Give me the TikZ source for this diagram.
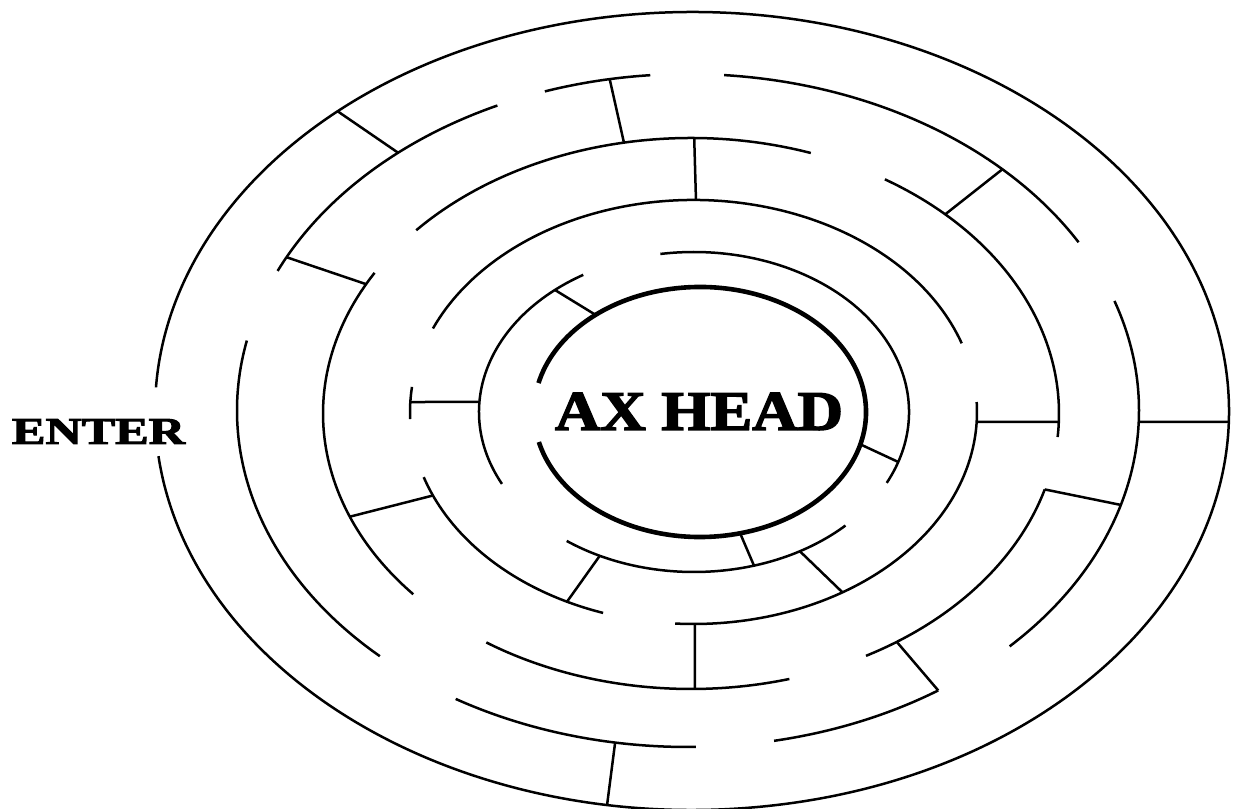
\documentclass[tikz,border=0pt]{standalone}
\usepackage{fontspec}
\usepackage{graphicx}
\setmainfont{Liberation Serif}
\newfontfamily\heavyserif{Liberation Serif}[BoldFeatures={FakeBold=2.5}]
\usetikzlibrary{calc}
\newcommand\mzarc[5]{\draw ($(#1)+(#4:#2 and #3)$) arc[start angle=#4,end angle=#5,x radius=#2,y radius=#3];}
\begin{document}
\begin{tikzpicture}[x=1pt,y=1pt,
  wall/.style={line width=2.5pt},
  thickwall/.style={line width=4.6pt},
  mazelabel/.style={inner sep=0pt,font=\heavyserif\bfseries}]
\useasboundingbox (0,0) rectangle (1235,809);
\clip (0,0) rectangle (1235,809);
\fill[white] (0,0) rectangle (1235,809);
% ring centres
\coordinate (cA) at (692,398);
\coordinate (cB) at (688,398.5);
\coordinate (cC) at (691,395.5);
\coordinate (cD) at (693.5,397);
\coordinate (cE) at (694,397);
\coordinate (cF) at (700,397);
\begin{scope}[wall]
% ring A (outer)
\mzarc{cA}{537}{399}{-173.5}{176.6}
% ring B
\mzarc{cB}{451}{336.5}{115}{155.5}
\mzarc{cB}{451}{336.5}{168}{226.9}
\mzarc{cB}{451}{336.5}{239}{271}
\mzarc{cB}{451}{336.5}{94.8}{108.5}
\mzarc{cB}{451}{336.5}{30}{85.4}
\mzarc{cB}{451}{336.5}{-44.5}{19}
\mzarc{cB}{451}{336.5}{-79}{-56.3}
% ring C
\mzarc{cC}{368}{275.5}{71}{138.3}
\mzarc{cC}{368}{275.5}{-4.9}{58.2}
\mzarc{cC}{368}{275.5}{149.3}{221}
\mzarc{cC}{368}{275.5}{236.2}{285.5}
\mzarc{cC}{368}{275.5}{-61.6}{-16}
% ring D
\mzarc{cD}{283.5}{212}{18.9}{156.8}
\mzarc{cD}{283.5}{212}{173.2}{181.9}
\mzarc{cD}{283.5}{212}{197.9}{251.4}
\mzarc{cD}{283.5}{212}{-93.7}{2.7}
% ring E
\mzarc{cE}{215}{160}{-26.3}{99}
\mzarc{cE}{215}{160}{121}{206.7}
\mzarc{cE}{215}{160}{233.7}{314.8}
% radial walls
\draw ($(cA)+(131.3:537 and 399)$) -- ($(cB)+(130:451 and 336.5)$);
\draw ($(cB)+(152.9:451 and 336.5)$) -- ($(cC)+(152:368 and 275.5)$);
\draw ($(cB)+(100:451 and 336.5)$) -- ($(cC)+(100.5:368 and 275.5)$);
\draw ($(cC)+(89.5:368 and 275.5)$) -- ($(cD)+(89.5:283.5 and 212)$);
\draw ($(cB)+(45.8:451 and 336.5)$) -- ($(cC)+(46.3:368 and 275.5)$);
\draw ($(cC)+(-16:368 and 275.5)$) -- ($(cB)+(-16.3:451 and 336.5)$);
\draw ($(cB)+(-1.96:451 and 336.5)$) -- ($(cA)+(-1.58:537 and 399)$);
\draw ($(cC)+(-56:368 and 275.5)$) -- ($(cB)+(-56.3:451 and 336.5)$);
\draw ($(cB)+(260.7:451 and 336.5)$) -- ($(cA)+(260.9:537 and 399)$);
\draw ($(cD)+(-89.7:283.5 and 212)$) -- ($(cC)+(-89.4:368 and 275.5)$);
\draw ($(cD)+(203.2:283.5 and 212)$) -- ($(cC)+(202:368 and 275.5)$);
\draw ($(cD)+(177.3:283.5 and 212)$) -- ($(cE)+(176.4:215 and 160)$);
\draw ($(cD)+(-2.7:283.5 and 212)$) -- ($(cC)+(-1.77:368 and 275.5)$);
\draw ($(cE)+(130.3:215 and 160)$) -- ($(cF)+(129:166 and 125)$);
\draw ($(cF)+(-15:166 and 125)$) -- ($(cE)+(-18.2:215 and 160)$);
\draw ($(cF)+(-76:166 and 125)$) -- ($(cE)+(-73.8:215 and 160)$);
\draw ($(cE)+(244:215 and 160)$) -- ($(cD)+(243.5:283.5 and 212)$);
\draw ($(cE)+(-60.5:215 and 160)$) -- ($(cD)+(-58.3:283.5 and 212)$);
\end{scope}
% ring F (thick, innermost)
\begin{scope}[thickwall]
\mzarc{cF}{166}{125}{193.9}{526.6}
\end{scope}
% labels
\node[mazelabel] (axhead) at (699,397.5) {\resizebox{288pt}{37pt}{AX HEAD}};
\node[mazelabel] (enter) at (98.5,377.5) {\resizebox{173pt}{25pt}{ENTER}};
\end{tikzpicture}
\end{document}
